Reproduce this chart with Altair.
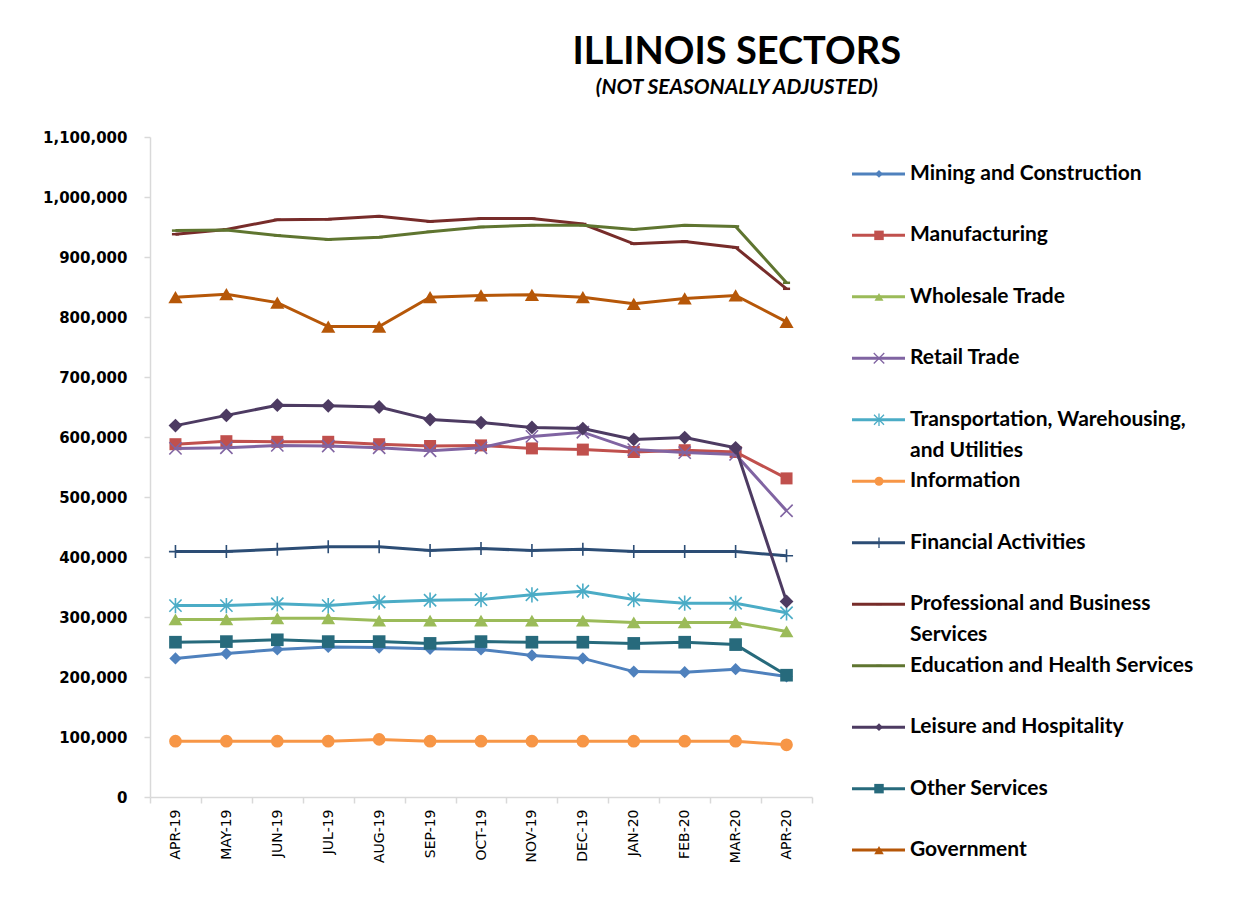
import altair as alt
import pandas as pd

months = ["APR-19", "MAY-19", "JUN-19", "JUL-19", "AUG-19", "SEP-19", "OCT-19",
          "NOV-19", "DEC-19", "JAN-20", "FEB-20", "MAR-20", "APR-20"]

sectors = ["Mining and Construction", "Manufacturing", "Wholesale Trade", "Retail Trade",
           "Transportation, Warehousing, and Utilities", "Information", "Financial Activities",
           "Professional and Business Services", "Education and Health Services",
           "Leisure and Hospitality", "Other Services", "Government"]

legend_line1 = ["Mining and Construction", "Manufacturing", "Wholesale Trade", "Retail Trade",
                "Transportation, Warehousing,", "Information", "Financial Activities",
                "Professional and Business", "Education and Health Services",
                "Leisure and Hospitality", "Other Services", "Government"]
legend_line2 = ["", "", "", "", "and Utilities", "", "", "Services", "", "", "", ""]

mining = [231000, 239000, 246000, 250000, 249000, 247000, 246000, 236000, 231000, 209000, 208000, 213000, 201000]
manufacturing = [588000, 593000, 592000, 592000, 588000, 585000, 586000, 581000, 579000, 575000, 578000, 575000, 531000]
wholesale = [296000, 296000, 298000, 298000, 294000, 294000, 294000, 294000, 294000, 291000, 291000, 291000, 276000]
retail = [581000, 582000, 586000, 585000, 582000, 577000, 582000, 601000, 608000, 579000, 574000, 571000, 477000]
transport = [319000, 319000, 322000, 319000, 325000, 328000, 329000, 337000, 343000, 329000, 323000, 323000, 307000]
information = [93000, 93000, 93000, 93000, 96000, 93000, 93000, 93000, 93000, 93000, 93000, 93000, 87000]
financial = [409000, 409000, 413000, 417000, 417000, 411000, 414000, 411000, 413000, 409000, 409000, 409000, 402000]
professional = [938000, 946000, 962000, 963000, 968000, 959000, 964000, 964000, 955000, 922000, 926000, 916000, 847000]
education = [944000, 945000, 936000, 929000, 933000, 942000, 950000, 953000, 953000, 946000, 953000, 951000, 857000]
leisure = [619000, 636000, 653000, 652000, 650000, 629000, 624000, 616000, 614000, 596000, 599000, 582000, 326000]
other = [258000, 259000, 262000, 259000, 259000, 256000, 259000, 258000, 258000, 256000, 258000, 254000, 203000]
government = [833000, 838000, 824000, 784000, 784000, 833000, 836000, 837000, 833000, 822000, 831000, 836000, 792000]

y_ticks = [0, 100000, 200000, 300000, 400000, 500000, 600000, 700000, 800000, 900000, 1000000, 1100000]

series = [mining, manufacturing, wholesale, retail, transport, information, financial,
          professional, education, leisure, other, government]

colors = ["#4F81BD", "#C0504D", "#9BBB59", "#8064A2", "#4BACC6", "#F79646", "#2C4D75",
          "#772C2A", "#5F7530", "#4D3B62", "#276A7C", "#B65708"]

X_PATH = "M-1,-1L1,1M-1,1L1,-1"
STAR_PATH = "M-1,-1L1,1M-1,1L1,-1M0,-1.25L0,1.25"
PLUS_PATH = "M-1,0L1,0M0,-1L0,1"
DASH_PATH = "M-1,-0.35L1,-0.35L1,0.35L-1,0.35Z"
shapes = ["diamond", "square", "triangle-up", X_PATH, STAR_PATH, "circle", PLUS_PATH,
          DASH_PATH, DASH_PATH, "diamond", "square", "triangle-up"]
filled = [True, True, True, False, False, True, False, True, True, True, True, True]
sizes = [150, 144, 190, 150, 150, 160, 170, 50, 50, 190, 160, 200]
leg_sizes = [60, 90, 80, 110, 100, 80, 110, 30, 30, 60, 90, 90]

rows = []
for s, vals in zip(sectors, series):
    for m, v in zip(months, vals):
        rows.append({"sector": s, "month": m, "value": v})
df = pd.DataFrame(rows)

leg_df = pd.DataFrame({"sector": sectors, "label1": legend_line1, "label2": legend_line2})

X = alt.X("month:O", sort=months,
          scale=alt.Scale(type="band", paddingInner=0, paddingOuter=0),
          axis=alt.Axis(title=None, labelAngle=-90, tickBand="extent", labelAlign="right",
                        labelBaseline="middle", labelFont="DejaVu Sans", labelFontSize=14,
                        labelFontWeight="normal", labelColor="#000000", labelPadding=6,
                        domainColor="#d9d9d9", tickColor="#d9d9d9", tickSize=6,
                        domainWidth=1.5, tickWidth=1.5))
Y = alt.Y("value:Q", scale=alt.Scale(domain=[0, 1100000], nice=False, zero=True),
          axis=alt.Axis(title=None, values=y_ticks, labelExpr="format(datum.value, ',')",
                        grid=False,
                        labelFont="DejaVu Sans", labelFontSize=15, labelFontWeight="bold",
                        labelColor="#000000", labelPadding=17, tickSize=6,
                        domainColor="#d9d9d9", tickColor="#d9d9d9",
                        domainWidth=1.5, tickWidth=1.5))

layers = []
for i, s in enumerate(sectors):
    base = alt.Chart(df).transform_filter(alt.datum.sector == s)
    layers.append(base.mark_line(color=colors[i], strokeWidth=3).encode(x=X, y=Y))
    layers.append(base.mark_point(shape=shapes[i], size=sizes[i], filled=filled[i],
                                  color=colors[i], opacity=1, strokeWidth=1.6)
                  .encode(x=X, y=Y))

main = alt.layer(*layers).properties(width=662, height=660)

YL = alt.Y("sector:N", sort=sectors, scale=alt.Scale(type="point", padding=0.6), axis=None)

leg_layers = [
    alt.Chart(leg_df).mark_rule(strokeWidth=3).encode(
        x=alt.value(7), x2=alt.value(60), y=YL,
        color=alt.Color("sector:N", scale=alt.Scale(domain=sectors, range=colors), legend=None))
]
for i, s in enumerate(sectors):
    leg_layers.append(
        alt.Chart(leg_df).transform_filter(alt.datum.sector == s)
        .mark_point(shape=shapes[i], size=leg_sizes[i], filled=filled[i], color=colors[i],
                    opacity=1, strokeWidth=1.3)
        .encode(x=alt.value(34), y=YL))
leg_layers.append(alt.Chart(leg_df).mark_text(align="left", baseline="middle", font="Lato",
                                              fontSize=21, fontWeight="bold", color="#000000")
                  .encode(x=alt.value(65), y=YL, text="label1:N"))
leg_layers.append(alt.Chart(leg_df).mark_text(align="left", baseline="middle", font="Lato",
                                              fontSize=21, fontWeight="bold", color="#000000",
                                              dy=31)
                  .encode(x=alt.value(65), y=YL, text="label2:N"))

legend = alt.layer(*leg_layers).properties(width=370, height=750)

chart = alt.hconcat(main, legend, spacing=32).properties(
    title=alt.TitleParams(text="ILLINOIS SECTORS", subtitle="(NOT SEASONALLY ADJUSTED)",
                          font="Lato", fontSize=38, fontWeight="bold", color="#000000",
                          subtitleFont="Lato", subtitleFontSize=21, subtitleFontWeight="bold",
                          subtitleFontStyle="italic", subtitleColor="#000000",
                          subtitlePadding=5, anchor="middle", dx=108, offset=32),
    padding={"left": 34, "top": 26, "right": 5, "bottom": 5}
).configure(background="white").configure_view(stroke=None)

chart.save("out.html", embed_options={"renderer": "svg", "actions": False})
